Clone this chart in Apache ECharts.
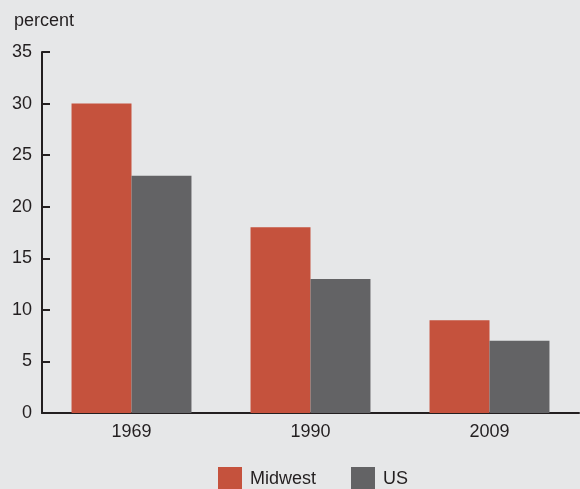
<!DOCTYPE html>
<html><head><meta charset="utf-8">
<script src="https://cdn.jsdelivr.net/npm/echarts@6/dist/echarts.min.js"></script>
<style>html,body{margin:0;padding:0;background:#e6e7e8;}#c{width:580px;height:489px;}</style>
</head><body><div id="c"></div>
<script>
const categories = ['1969', '1990', '2009'];
const midwest = [30, 18, 9];
const us = [23, 13, 7];
const yTicks = [0, 5, 10, 15, 20, 25, 30, 35];

const chart = echarts.init(document.getElementById('c'), null, {renderer: 'canvas'});
const font = 'Liberation Sans, Arial, Helvetica, sans-serif';
chart.setOption({
  backgroundColor: '#e6e7e8',
  animation: false,
  textStyle: {fontFamily: font},
  title: {text: 'percent', left: 9, top: 7, textStyle: {fontSize: 18, fontWeight: 'normal', color: '#231f20', fontFamily: font}},
  legend: {
    top: 467, left: 218, itemWidth: 24, itemHeight: 24, itemGap: 35,
    icon: 'rect', padding: 0,
    textStyle: {fontSize: 18, color: '#231f20', fontFamily: font, padding: [2, 0, 0, 3]},
    data: ['Midwest', 'US']
  },
  grid: {left: 42, right: 1, top: 52, bottom: 76, containLabel: false},
  xAxis: {
    type: 'category', data: categories,
    axisLine: {lineStyle: {color: '#231f20', width: 2}},
    axisTick: {inside: true, length: 7, lineStyle: {color: '#231f20', width: 2}},
    axisLabel: {fontSize: 18, color: '#231f20', margin: 10, fontFamily: font}
  },
  yAxis: {
    type: 'value', min: yTicks[0], max: yTicks[yTicks.length - 1], interval: 5,
    splitLine: {show: false},
    axisLine: {show: true, lineStyle: {color: '#231f20', width: 2}},
    axisTick: {show: true, inside: true, length: 8, lineStyle: {color: '#231f20', width: 2}},
    axisLabel: {fontSize: 18, color: '#231f20', margin: 10, fontFamily: font}
  },
  series: [
    {name: 'Midwest', type: 'bar', data: midwest, itemStyle: {color: '#c5523d'}, barGap: '0%', barCategoryGap: '33%'},
    {name: 'US', type: 'bar', data: us, itemStyle: {color: '#636365'}, barGap: '0%', barCategoryGap: '33%'}
  ]
});
</script></body></html>
